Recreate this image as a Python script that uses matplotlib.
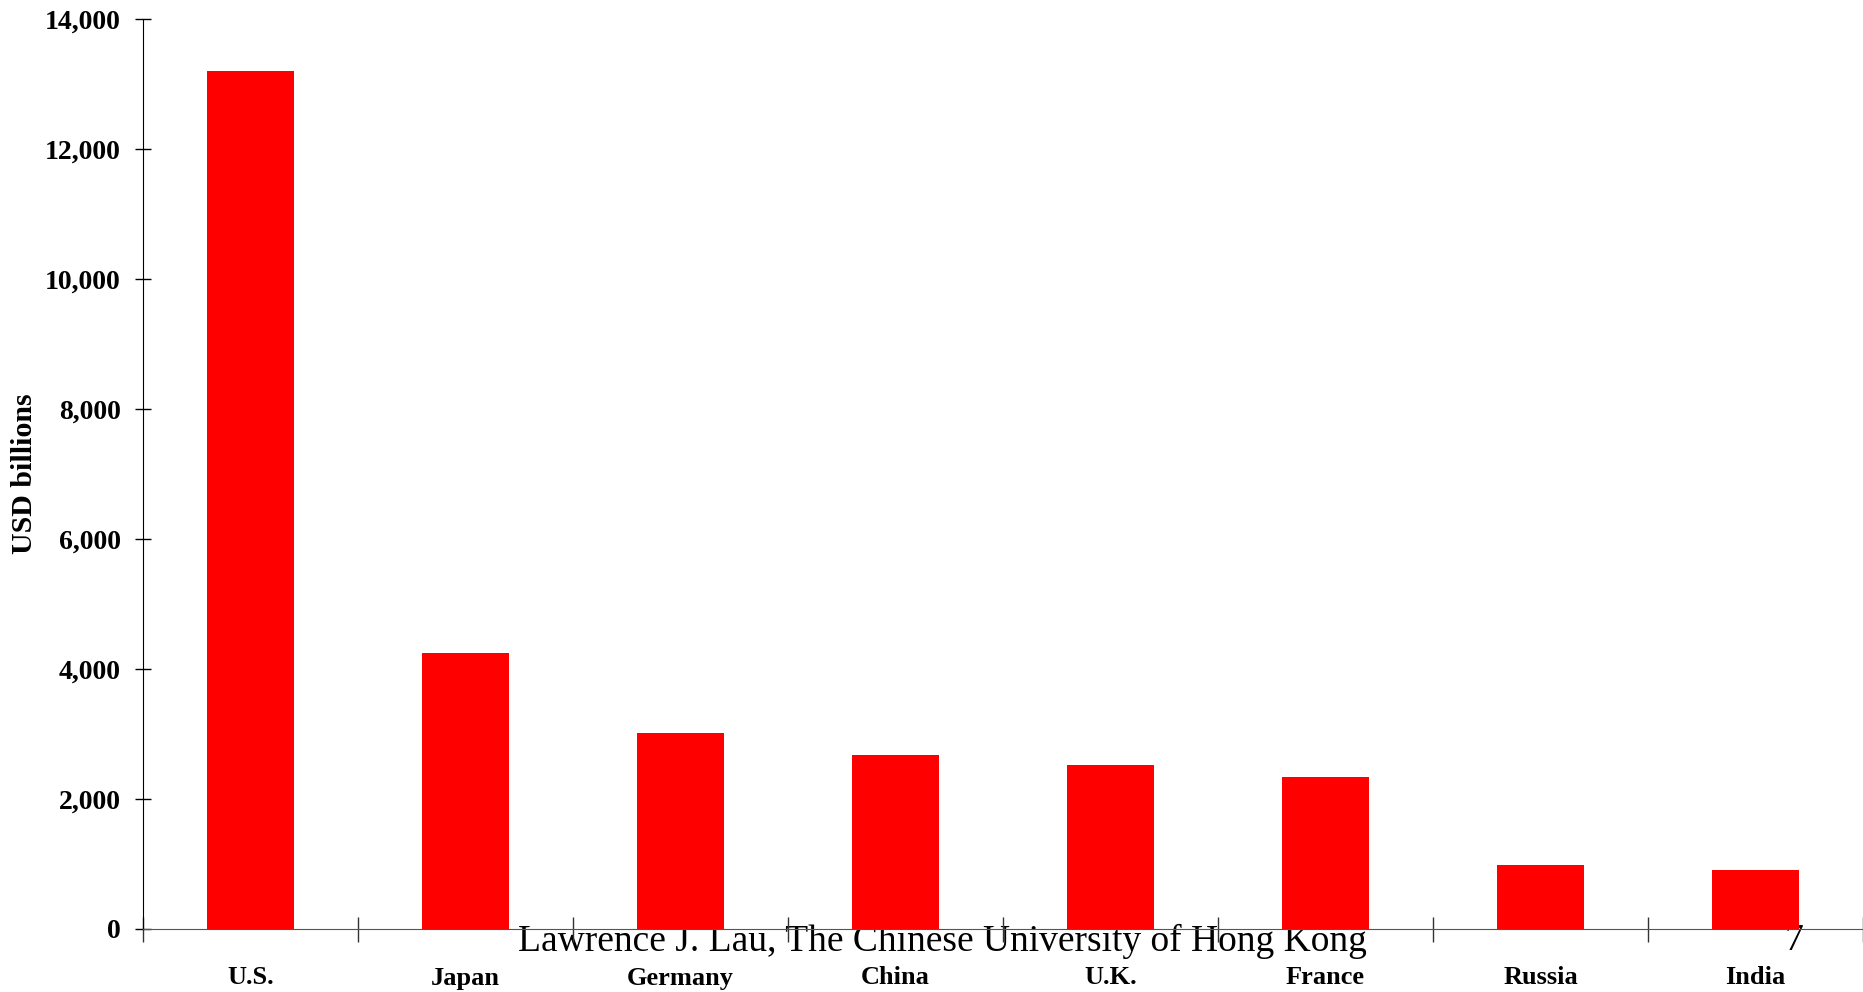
import matplotlib.pyplot as plt
from matplotlib.ticker import FuncFormatter, FixedLocator
import numpy as np

# GDP by country, USD billions
countries = ['U.S.', 'Japan', 'Germany', 'China', 'U.K.', 'France', 'Russia', 'India']
gdp = [13200, 4250, 3015, 2680, 2525, 2340, 985, 910]

plt.rcParams['font.family'] = ['Liberation Serif', 'DejaVu Serif']

fig = plt.figure(figsize=(18.63, 9.92), dpi=100)
ax = fig.add_axes([143 / 1863, 1 - 929 / 992, 1 - 143 / 1863, (929 - 19) / 992])
ax.patch.set_visible(False)

x = np.arange(len(countries))
ax.bar(x, gdp, width=0.405, color='#ff0000', zorder=2)

ax.set_xlim(-0.5, len(countries) - 0.5)
ax.set_ylim(0, 14000)
ax.set_yticks(np.arange(0, 14001, 2000))
ax.yaxis.set_major_formatter(FuncFormatter(lambda v, p: f'{int(v):,}'))

# ticks sit on the category boundaries, labels in the middle
ax.xaxis.set_major_locator(FixedLocator(np.arange(-0.5, len(countries), 1.0)))
ax.xaxis.set_major_formatter(FuncFormatter(lambda v, p: ''))
ax.set_xticks(x, minor=True)
ax.set_xticklabels(countries, minor=True, fontsize=19, fontweight='bold')
ax.tick_params(axis='x', which='major', direction='inout', length=18, width=1, color='#333333')
ax.tick_params(axis='x', which='minor', length=0, pad=27)
ax.tick_params(axis='y', direction='inout', length=12, width=1, pad=10, labelsize=20)
for lab in ax.get_yticklabels():
    lab.set_fontweight('bold')

for side in ['top', 'right']:
    ax.spines[side].set_visible(False)
ax.spines['left'].set_color('black')
ax.spines['bottom'].set_color('#555555')

ax.set_ylabel('USD billions', fontsize=21.5, fontweight='bold')
ax.yaxis.set_label_coords(-0.061, 0.5)

fig.text(942 / 1863, 1 - 941 / 992, 'Lawrence J. Lau, The Chinese University of Hong Kong',
         ha='center', va='center', fontsize=27, zorder=-1)
fig.text(1794 / 1863, 1 - 941 / 992, '7', ha='center', va='center', fontsize=27, zorder=-1)

fig.savefig('out.png', dpi=100)
